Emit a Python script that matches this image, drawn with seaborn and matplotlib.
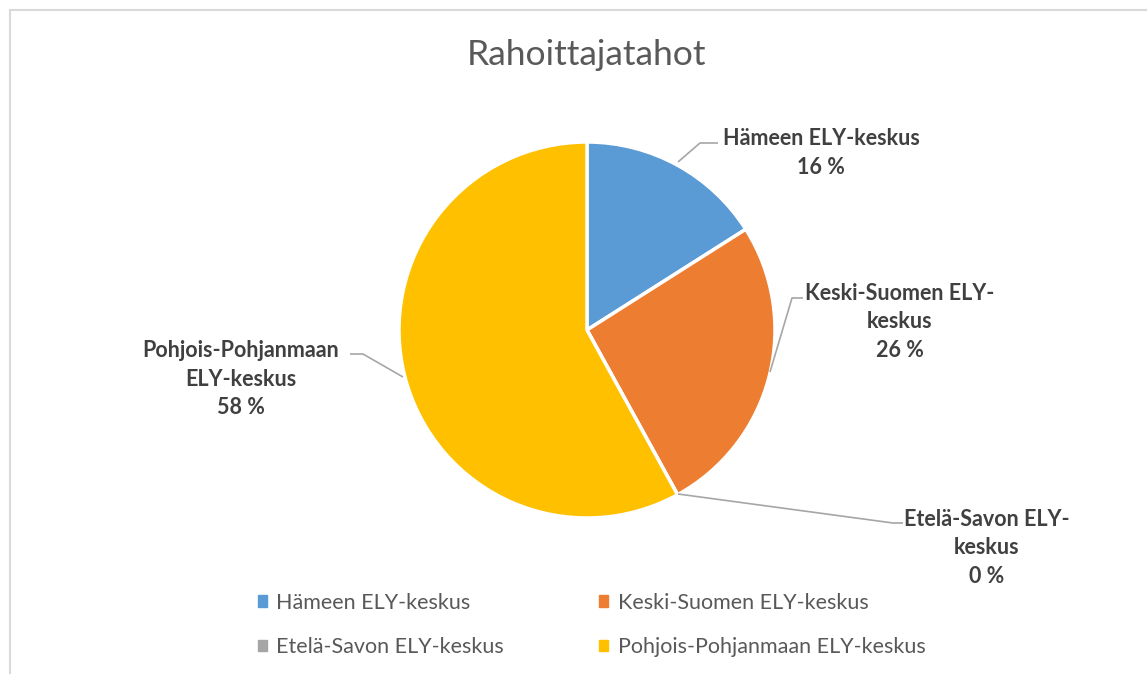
import matplotlib
matplotlib.use("Agg")
import matplotlib.pyplot as plt
import matplotlib.patches as mpatches
import seaborn as sns
import numpy as np

categories = ["Hämeen ELY-keskus", "Keski-Suomen ELY-keskus",
              "Etelä-Savon ELY-keskus", "Pohjois-Pohjanmaan ELY-keskus"]
values = [16, 26, 0, 58]
label_texts = ["Hämeen ELY-keskus\n16 %", "Keski-Suomen ELY-\nkeskus\n26 %",
               "Etelä-Savon ELY-\nkeskus\n0 %", "Pohjois-Pohjanmaan\nELY-keskus\n58 %"]
colors = ["#5B9BD5", "#ED7D31", "#A5A5A5", "#FFC000"]

sns.set_theme(style="white")
plt.rcParams['font.family'] = ['Lato', 'DejaVu Sans']

W, H = 1147, 674
fig = plt.figure(figsize=(W / 100, H / 100), dpi=100)
ax = fig.add_axes([0, 0, 1, 1])
cx, cy, R = 587, 330, 188

def px(x, y):
    return ((x - cx) / R, (cy - y) / R)

wedges, _ = ax.pie(values, colors=colors, startangle=90, counterclock=False,
                   radius=1, center=(0, 0), frame=True,
                   wedgeprops=dict(edgecolor='white', linewidth=2.5))
ax.set_xlim(-cx / R, (W - cx) / R)
ax.set_ylim(-(H - cy) / R, cy / R)
ax.set_aspect('equal')
ax.axis('off')

# leader lines (pixel paths) and labels
leaders = [
    [(678, 162), (700, 143), (718, 143)],
    [(770, 372), (792, 298), (803, 298)],
    [(678, 494), (893, 523), (903, 523)],
    [(403, 377), (363, 354), (350, 354)],
]
label_pos = [(821, 153), (900, 322), (987, 548), (241, 379)]
for path, txt, (lx, ly) in zip(leaders, label_texts, label_pos):
    xs, ys = zip(*[px(x, y) for x, y in path])
    ax.plot(xs, ys, color="#A6A6A6", lw=1.2, solid_capstyle='butt')
    ax.text(*px(lx, ly), txt, ha='center', va='center', fontsize=15.5,
            fontweight='bold', color='#404040', linespacing=1.45)

fig.text(587 / W, 1 - 55 / H, "Rahoittajatahot", ha='center', va='center',
         fontsize=25.5, color='#595959')

handles = [mpatches.Patch(color=c, label=l) for c, l in zip(colors, categories)]
order = [0, 2, 1, 3]  # row-major fill for 2 columns
fig.legend(handles=[handles[i] for i in order], loc='center',
           bbox_to_anchor=(591.5 / W, 1 - 625 / H),
           ncol=2, frameon=False, fontsize=15.5, labelcolor='#595959',
           handlelength=0.42, handleheight=0.42, handletextpad=0.45,
           columnspacing=4.4, labelspacing=1.15)

# outer border
fig.patches.append(mpatches.Rectangle((10 / W, -0.1), 1.2, 1 - 10 / H + 0.1,
                                      transform=fig.transFigure, fill=False,
                                      edgecolor='#D9D9D9', lw=1.5))

fig.savefig("out.png", dpi=100)
